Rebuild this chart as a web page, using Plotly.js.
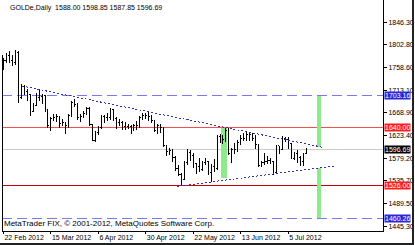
<!DOCTYPE html>
<html><head><meta charset="utf-8">
<script src="https://cdn.plot.ly/plotly-3.0.1.min.js"></script>
<style>html,body{margin:0;padding:0;background:#fff}#chart{width:415px;height:245px}
#chart .shapelayer path, #chart .ohlc path{shape-rendering:crispEdges}</style>
</head><body><div id="chart"></div>
<script>
// ---- data (daily GOLDe bars, 22 Feb 2012 .. 13 Jul 2012) ----
const openP = [1758,1773,1781,1773,1769,1787,1700,1720,1710,1706,1672,1684,1699,1701,1703,1676,1644,1657,1659,1662,1648,1650,1643,1663,1690,1685,1660,1662,1668,1677,1645,1615,1630,1640,1661,1660,1659,1676,1658,1649,1650,1642,1642,1642,1638,1644,1643,1660,1663,1664,1662,1653,1635,1643,1640,1605,1593,1594,1580,1560,1548,1538,1572,1591,1584,1569,1563,1557,1572,1573,1551,1563,1560,1622,1620,1617,1634,1589,1596,1596,1611,1618,1619,1626,1627,1619,1607,1566,1572,1574,1575,1574,1552,1604,1597,1619,1616,1608,1579,1588,1580,1573,1588.00];
const highP = [1776,1787,1790,1782,1792,1791,1725,1723,1716,1707,1688,1708,1716,1706,1704,1677,1661,1667,1667,1663,1656,1651,1666,1693,1697,1688,1666,1673,1680,1680,1647,1634,1643,1664,1664,1668,1678,1677,1660,1656,1653,1651,1647,1644,1646,1652,1662,1669,1668,1672,1665,1654,1646,1646,1641,1606,1600,1597,1583,1566,1551,1575,1597,1595,1590,1571,1579,1575,1579,1575,1568,1577,1625,1627,1625,1640,1640,1599,1609,1615,1625,1630,1632,1631,1630,1625,1608,1575,1590,1584,1580,1575,1606,1604,1624,1621,1622,1610,1592,1596,1583,1590,1598.85];
const lowP = [1754,1768,1768,1762,1764,1688,1696,1704,1693,1663,1670,1682,1692,1687,1670,1640,1633,1653,1650,1640,1643,1627,1640,1660,1680,1655,1651,1658,1664,1642,1613,1612,1626,1637,1648,1653,1655,1652,1637,1642,1636,1635,1637,1627,1634,1636,1640,1655,1657,1653,1649,1632,1628,1629,1601,1584,1585,1573,1555,1544,1527,1536,1567,1574,1560,1548,1552,1554,1567,1546,1532,1553,1556,1610,1608,1612,1585,1570,1588,1591,1605,1613,1614,1614,1614,1597,1563,1562,1566,1568,1568,1547,1549,1588,1595,1611,1598,1577,1576,1571,1565,1564,1587.85];
const closeP = [1773,1781,1773,1769,1787,1700,1720,1710,1706,1672,1684,1699,1701,1703,1676,1644,1657,1659,1662,1648,1650,1643,1663,1690,1685,1660,1662,1668,1677,1645,1615,1630,1640,1661,1660,1659,1676,1658,1649,1650,1642,1642,1642,1638,1644,1643,1660,1663,1664,1662,1653,1635,1643,1640,1605,1593,1594,1580,1560,1548,1538,1572,1591,1584,1569,1563,1557,1572,1573,1551,1563,1560,1622,1620,1617,1634,1589,1596,1596,1611,1618,1619,1626,1627,1619,1607,1566,1572,1574,1575,1574,1552,1604,1597,1619,1616,1608,1579,1588,1580,1573,1587,1596.69];

const xTickIdx = [0,16,32,48,64,80,96];
const xTickText = ['22 Feb 2012','15 Mar 2012','6 Apr 2012','30 Apr 2012','22 May 2012','13 Jun 2012','5 Jul 2012'];
const yTickVals = [1846.30,1802.80,1758.60,1713.10,1668.90,1623.40,1579.20,1535.70,1489.50,1445.30];

const levelVals = [1703.16,1640.00,1596.69,1526.00,1460.26];
const triUpperIdx = [6.2,108.0];
const triUpperVal = [1721.8,1600.6];
const triLowerIdx = [58.5,112.0];
const triLowerVal = [1524.0,1564.5];
const measureIdx0 = [73.3,105.6,105.6];
const measureIdx1 = [75.4,107.0,107.0];
const measureTop = [1640.0,1702.0,1560.0];
const measureBot = [1541.0,1602.0,1462.0];

const headerText = 'GOLDe,Daily  1588.00 1598.85 1587.85 1596.69';
const footerText = 'MetaTrader FIX, \u00a9 2001-2012, MetaQuotes Software Corp.';

// ---- styles ----
const levelStyle = [
  {color:'#7a7af0', dash:'10px,5px', box:'#2828d8'},
  {color:'#f05050', dash:'solid', box:'#ff1c1c'},
  {color:'#cccccc', dash:'solid', box:'#000000'},
  {color:'#c80000', dash:'solid', box:'#ff1c1c'},
  {color:'#7a7af0', dash:'10px,5px', box:'#2828d8'}
];
const FONT = 'Liberation Sans, Arial, sans-serif';

const xIdx = openP.map((_, i) => i);

const trace = {
  type:'ohlc', x:xIdx, open:openP, high:highP, low:lowP, close:closeP,
  increasing:{line:{color:'#000', width:1}},
  decreasing:{line:{color:'#000', width:1}},
  tickwidth:0.35, hoverinfo:'skip', showlegend:false
};

const shapes = [];
for (let k=0;k<measureIdx0.length;k++){
  shapes.push({type:'rect', xref:'x', yref:'y', x0:measureIdx0[k], x1:measureIdx1[k], y0:measureBot[k], y1:measureTop[k],
    fillcolor:'#8ee88e', line:{width:0}, layer:'below'});
}
levelVals.forEach((v,k)=>{
  shapes.push({type:'line', xref:'paper', yref:'y', x0:0, x1:1, y0:v, y1:v,
    line:{color:levelStyle[k].color, width:1, dash:levelStyle[k].dash}, layer:'below'});
});
shapes.push({type:'line', xref:'x', yref:'y', x0:triUpperIdx[0], x1:triUpperIdx[1], y0:triUpperVal[0], y1:triUpperVal[1],
  line:{color:'#3434b0', width:1, dash:'2px,2px'}});
shapes.push({type:'line', xref:'x', yref:'y', x0:triLowerIdx[0], x1:triLowerIdx[1], y0:triLowerVal[0], y1:triLowerVal[1],
  line:{color:'#3434b0', width:1, dash:'2px,2px'}});
shapes.push({type:'line', xref:'paper', yref:'paper', x0:0, x1:0, y0:0, y1:0.76, line:{color:'#000', width:1}});
shapes.push({type:'line', xref:'paper', yref:'paper', x0:1.0775, x1:1.0775, y0:-0.06, y1:1, line:{color:'#222', width:2}});
shapes.push({type:'line', xref:'paper', yref:'paper', x0:-0.01, x1:1.0775, y0:-0.056, y1:-0.056, line:{color:'#222', width:2}});

const annotations = [];
levelVals.forEach((v,k)=>{
  annotations.push({xref:'paper', yref:'y', x:1, y:v, xanchor:'left', yanchor:'middle', xshift:1,
    text:v.toFixed(2), showarrow:false, bgcolor:levelStyle[k].box, borderpad:0,
    font:{family:FONT, size:7, color:'#fff'}});
});
annotations.push({xref:'paper', yref:'paper', x:0, y:1, xanchor:'left', yanchor:'top', xshift:6, yshift:-2,
  text:headerText.replace(/ /g,'&nbsp;'), showarrow:false, font:{family:FONT, size:7, color:'#000'}});
annotations.push({xref:'paper', yref:'paper', x:0, y:0, xanchor:'left', yanchor:'bottom', xshift:0, yshift:1,
  text:footerText, showarrow:false, font:{family:FONT, size:8, color:'#000'}});

const layout = {
  width:415, height:245,
  margin:{l:2, r:32, t:0, b:14, pad:0},
  paper_bgcolor:'#fff', plot_bgcolor:'#fff',
  showlegend:false,
  xaxis:{type:'linear', range:[-0.5,127.95], showgrid:false, zeroline:false,
    tickmode:'array', tickvals:xTickIdx, ticktext:xTickText, tickangle:0,
    ticks:'outside', ticklen:2, tickcolor:'#000', ticklabelposition:'outside right',
    showline:true, linecolor:'#000', linewidth:1, mirror:false,
    rangeslider:{visible:false}, fixedrange:true,
    tickfont:{family:FONT, size:7, color:'#000'}},
  yaxis:{type:'linear', side:'right', range:[1436.1,1891.2], showgrid:false, zeroline:false,
    tickmode:'array', tickvals:yTickVals, ticktext:yTickVals.map(v=>v.toFixed(2)),
    ticks:'outside', ticklen:3, tickcolor:'#000',
    showline:true, linecolor:'#000', linewidth:1, mirror:false, fixedrange:true,
    tickfont:{family:FONT, size:7, color:'#000'}},
  shapes:shapes, annotations:annotations
};

Plotly.newPlot('chart',[trace],layout,{staticPlot:true, displayModeBar:false});
</script>
</body></html>
